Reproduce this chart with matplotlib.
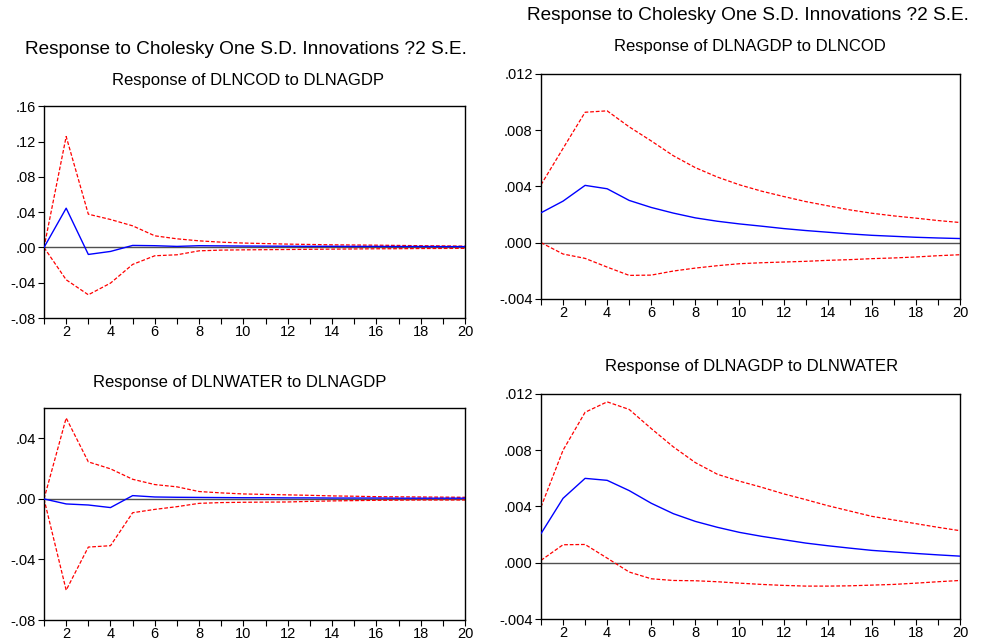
import numpy as np
import matplotlib
matplotlib.use("Agg")
import matplotlib.pyplot as plt
from matplotlib.ticker import MultipleLocator, FuncFormatter

plt.rcParams['font.family'] = ['Liberation Sans', 'DejaVu Sans']

periods = list(range(1, 21))

# Response of DLNCOD to DLNAGDP
cod_resp = [0.0, 0.0445, -0.0079, -0.0045, 0.0023, 0.0020, 0.0012, 0.0020, 0.0018, 0.0016,
            0.0015, 0.0014, 0.0013, 0.0013, 0.0012, 0.0012, 0.0011, 0.0011, 0.0010, 0.0010]
cod_upper = [0.0, 0.1257, 0.0377, 0.0317, 0.0245, 0.0132, 0.0098, 0.0075, 0.0060, 0.0050,
             0.0044, 0.0038, 0.0034, 0.0030, 0.0028, 0.0026, 0.0023, 0.0020, 0.0018, 0.0015]
cod_lower = [0.0, -0.0366, -0.0536, -0.0404, -0.0192, -0.0094, -0.0083, -0.0038, -0.0030, -0.0027,
             -0.0025, -0.0023, -0.0021, -0.0019, -0.0017, -0.0015, -0.0014, -0.0012, -0.0011, -0.0010]

# Response of DLNAGDP to DLNCOD
gdp_cod_resp = [0.00212, 0.00295, 0.00407, 0.00383, 0.00300, 0.00250, 0.00210, 0.00176, 0.00152, 0.00133,
                0.00117, 0.00100, 0.00086, 0.00074, 0.00062, 0.00052, 0.00045, 0.00038, 0.00033, 0.00029]
gdp_cod_upper = [0.00411, 0.00670, 0.00927, 0.00937, 0.00823, 0.00723, 0.00618, 0.00533, 0.00466, 0.00411,
                 0.00366, 0.00328, 0.00292, 0.00262, 0.00233, 0.00209, 0.00190, 0.00174, 0.00157, 0.00143]
gdp_cod_lower = [0.0, -0.00081, -0.00112, -0.00174, -0.00233, -0.00231, -0.00202, -0.00181, -0.00164, -0.00150,
                 -0.00143, -0.00138, -0.00133, -0.00126, -0.00121, -0.00114, -0.00109, -0.00102, -0.00093, -0.00086]

# Response of DLNWATER to DLNAGDP
water_resp = [0.0, -0.0033, -0.0040, -0.0057, 0.0022, 0.0013, 0.0011, 0.0010, 0.0009, 0.0008,
              0.0008, 0.0007, 0.0007, 0.0006, 0.0006, 0.0006, 0.0005, 0.0005, 0.0005, 0.0005]
water_upper = [0.0, 0.0535, 0.0245, 0.0199, 0.0130, 0.0095, 0.0080, 0.0049, 0.0040, 0.0033,
               0.0030, 0.0027, 0.0024, 0.0020, 0.0018, 0.0015, 0.0014, 0.0013, 0.0012, 0.0011]
water_lower = [0.0, -0.0603, -0.0318, -0.0309, -0.0091, -0.0069, -0.0051, -0.0029, -0.0024, -0.0022,
               -0.0021, -0.0020, -0.0016, -0.0013, -0.0011, -0.0009, -0.0008, -0.0007, -0.0007, -0.0007]

# Response of DLNAGDP to DLNWATER
gdp_water_resp = [0.00207, 0.00458, 0.00600, 0.00586, 0.00513, 0.00423, 0.00349, 0.00294, 0.00252, 0.00216,
                  0.00188, 0.00164, 0.00140, 0.00121, 0.00104, 0.00088, 0.00077, 0.00066, 0.00056, 0.00047]
gdp_water_upper = [0.00396, 0.00800, 0.01070, 0.01144, 0.01090, 0.00954, 0.00824, 0.00712, 0.00629, 0.00580,
                   0.00537, 0.00490, 0.00449, 0.00406, 0.00368, 0.00330, 0.00304, 0.00278, 0.00252, 0.00228]
gdp_water_lower = [0.00017, 0.00128, 0.00130, 0.00033, -0.00066, -0.00114, -0.00126, -0.00128, -0.00135, -0.00145,
                   -0.00154, -0.00161, -0.00166, -0.00166, -0.00164, -0.00159, -0.00154, -0.00145, -0.00135, -0.00126]


def draw_panel(ax, resp, upper, lower, ylim, step, ndec):
    ax.axhline(0, color='#505050', lw=1.0, zorder=1)
    ax.plot(periods, upper, color='red', lw=0.9, ls=(0, (3, 1.5)), zorder=2)
    ax.plot(periods, lower, color='red', lw=0.9, ls=(0, (3, 1.5)), zorder=2)
    ax.plot(periods, resp, color='blue', lw=1.0, zorder=3)
    ax.set_xlim(1, 20)
    ax.set_ylim(*ylim)
    ax.yaxis.set_major_locator(MultipleLocator(step))
    fmt = '%.' + str(ndec) + 'f'
    ax.yaxis.set_major_formatter(FuncFormatter(lambda v, p: (fmt % v).replace('0.', '.', 1)))
    ax.set_xticks(periods)
    ax.set_xticklabels([str(p) if p % 2 == 0 else '' for p in periods])
    ax.tick_params(direction='out', length=4, width=0.8, labelsize=10.5, pad=2)
    ax.tick_params(axis='x', pad=1)
    for sp in ax.spines.values():
        sp.set_linewidth(1.0)


fig = plt.figure(figsize=(9.89, 6.40), dpi=100)

ax1 = fig.add_axes([0.0445, 0.503, 0.4257, 0.331])
ax2 = fig.add_axes([0.547, 0.533, 0.4237, 0.3516])
ax3 = fig.add_axes([0.0445, 0.03125, 0.4257, 0.331])
ax4 = fig.add_axes([0.547, 0.0328, 0.4237, 0.3516])

draw_panel(ax1, cod_resp, cod_upper, cod_lower, (-0.08, 0.16), 0.04, 2)
draw_panel(ax2, gdp_cod_resp, gdp_cod_upper, gdp_cod_lower, (-0.004, 0.012), 0.004, 3)
draw_panel(ax3, water_resp, water_upper, water_lower, (-0.08, 0.06), 0.04, 2)
draw_panel(ax4, gdp_water_resp, gdp_water_upper, gdp_water_lower, (-0.004, 0.012), 0.004, 3)


def put(x, y, s, size):
    fig.text(x / 989, 1 - y / 640, s, ha='center', va='center', fontsize=size)


put(246, 50, 'Response to Cholesky One S.D. Innovations ?2 S.E.', 13.7)
put(748, 16, 'Response to Cholesky One S.D. Innovations ?2 S.E.', 13.7)
put(248, 81, 'Response of DLNCOD to DLNAGDP', 12)
put(750, 47, 'Response of DLNAGDP to DLNCOD', 12)
put(240, 382, 'Response of DLNWATER to DLNAGDP', 12)
put(752, 367, 'Response of DLNAGDP to DLNWATER', 12)

fig.savefig('out.png', dpi=100)
